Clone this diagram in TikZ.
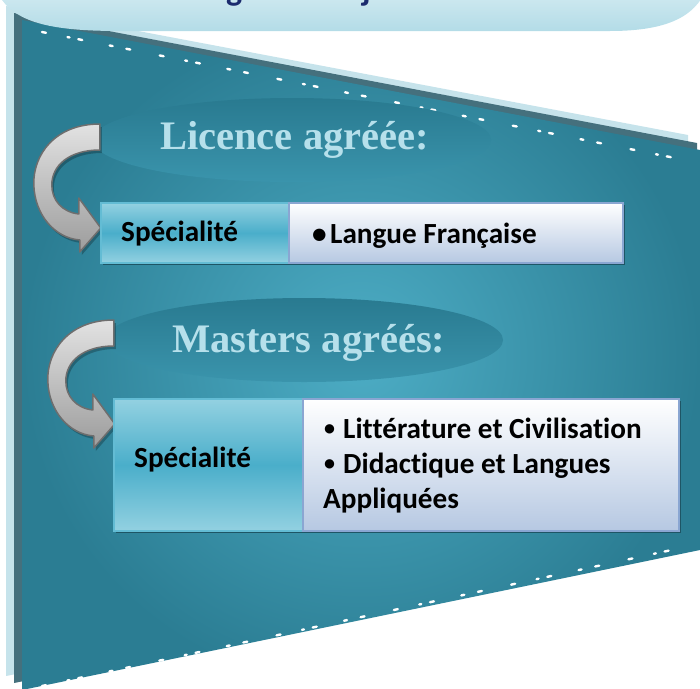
\documentclass[tikz,border=0pt]{standalone}
\usepackage{fontspec}
\setmainfont[Ligatures=NoCommon]{Carlito}
\newfontfamily\titlefont{Liberation Serif}
\usetikzlibrary{shapes.geometric}
\definecolor{tealD}{HTML}{2B7D93}
\definecolor{tealL}{HTML}{4DADC5}
\definecolor{bandL}{HTML}{C6E3EB}
\definecolor{bandD}{HTML}{45707D}
\definecolor{banT}{HTML}{D2EAF1}
\definecolor{banB}{HTML}{B3DCE7}
\definecolor{ellT}{HTML}{297A90}
\definecolor{ellB}{HTML}{3A94AC}
\definecolor{titleC}{HTML}{B6E0EB}
\definecolor{specT}{HTML}{93D1E1}
\definecolor{specM}{HTML}{4AAECA}
\definecolor{specE}{HTML}{63BCD4}
\definecolor{contB}{HTML}{B6C8E2}
\definecolor{contE}{HTML}{8AA6D2}
\definecolor{shadowC}{HTML}{1E5565}
\definecolor{navy}{HTML}{1B2B6E}
\definecolor{arrT}{HTML}{E2E2E2}
\definecolor{arrB}{HTML}{9C9C9C}
\definecolor{arrE}{HTML}{6E6E6E}
\newcommand{\smallbullet}{\makebox[19pt][l]{\raisebox{3pt}{\fontsize{22}{22}\selectfont •}}}
\tikzset{
  ell/.style={ellipse, minimum width=398pt, minimum height=84pt, inner sep=0pt, top color=ellT, bottom color=ellB, draw=none},
  ttl/.style={font=\titlefont\bfseries\fontsize{40.5}{40.5}\selectfont, text=titleC, anchor=base west, inner sep=0pt},
  spec/.style={draw=specE, line width=2pt, top color=specT, bottom color=specT, middle color=specM, anchor=north west, inner sep=0pt},
  cont/.style={draw=contE, line width=2pt, top color=white, bottom color=contB, anchor=north west, inner sep=0pt},
  lbl/.style={font=\bfseries\fontsize{29.2}{29.2}\selectfont, anchor=base west, inner sep=0pt},
  dots/.style={white, line width=2.4pt, line cap=round, dash pattern=on 4pt off 22pt on 2pt off 9pt on 4pt off 28pt on 3pt off 14pt on 4pt off 30pt},
  uturn/.pic={
    \fill[black, opacity=0.25, shift={(2,3)}] (7,-16) .. controls (-38,-16) and (-60,15) .. (-59,45) .. controls (-58,75) and (-38,98) .. (-13,100) -- (-13,112) -- (8,88) -- (-14,58) -- (-14,74) .. controls (-31,72) and (-41,60) .. (-41,45) .. controls (-41,25) and (-23,10) .. (7,10) -- cycle;
    \shade[top color=arrT, bottom color=arrB, draw=arrE, line width=1.5pt, line join=round] (7,-16) .. controls (-38,-16) and (-60,15) .. (-59,45) .. controls (-58,75) and (-38,98) .. (-13,100) -- (-13,112) -- (8,88) -- (-14,58) -- (-14,74) .. controls (-31,72) and (-41,60) .. (-41,45) .. controls (-41,25) and (-23,10) .. (7,10) -- cycle;
  }
}
\begin{document}
\begin{tikzpicture}[x=1pt,y=-1pt]
\useasboundingbox (0,0) rectangle (700,688);
% back bands
\fill[bandL] (6,6) -- (688,135) -- (688,540) -- (6,676) -- cycle;
\fill[bandD] (14,13) -- (697,143) -- (697,546) -- (14,683) -- cycle;
% main teal shape
\shade[inner color=tealL, outer color=tealD] (22,20) -- (700,150) -- (700,550) -- (22,690) -- cycle;
% dotted edges
\draw[dots] (42,32) -- (690,161);
\draw[dots] (42,686) -- (690,546);
% ellipses and titles
\node[ell] (e1) at (292,140) {};
\node[ttl] (t1) at (160,149) {Licence agréée:};
\node[ell] (e2) at (304,340) {};
\node[ttl] (t2) at (172,352) {Masters agréés:};
% u-turn arrows
\pic at (e1.west) {uturn};
\pic at ([shift={(2,-4)}]e2.west) {uturn};
% shadows under boxes
\fill[shadowC] (103,205) rectangle (625,265);
\fill[shadowC] (116,401) rectangle (681,533);
% boxes
\node[spec, minimum width=188pt, minimum height=60pt] (s1) at (100,202) {};
\node[cont, minimum width=334pt, minimum height=60pt] (c1) at (288,202) {};
\node[spec, minimum width=189pt, minimum height=132pt] (s2) at (113,398) {};
\node[cont, minimum width=376pt, minimum height=132pt] (c2) at (302,398) {};
% texts
\node[lbl] (l1) at (121,241) {Spécialité};
\node[lbl] (l2) at (312,243) {\makebox[18pt][l]{•}Langue Française};
\node[lbl] (l3) at (134,467) {Spécialité};
\node[lbl] (l4) at (324,438) {\smallbullet Littérature et Civilisation};
\node[lbl] (l5) at (324,473) {\smallbullet Didactique et Langues};
\node[lbl] (l6) at (323,508) {Appliquées};
% top banner
\shade[top color=banT, bottom color=banB] (2,-10) -- (2,0) .. controls (20,25) and (60,31) .. (120,31) -- (610,31) .. controls (670,31) and (695,15) .. (706,-10) -- cycle;
\node[font=\bfseries\fontsize{34}{34}\selectfont, text=navy, anchor=base west, inner sep=0pt] (bg) at (226,1) {g};
\node[font=\bfseries\fontsize{34}{34}\selectfont, text=navy, anchor=base west, inner sep=0pt] (bj) at (362,1) {j};
\end{tikzpicture}
\end{document}
